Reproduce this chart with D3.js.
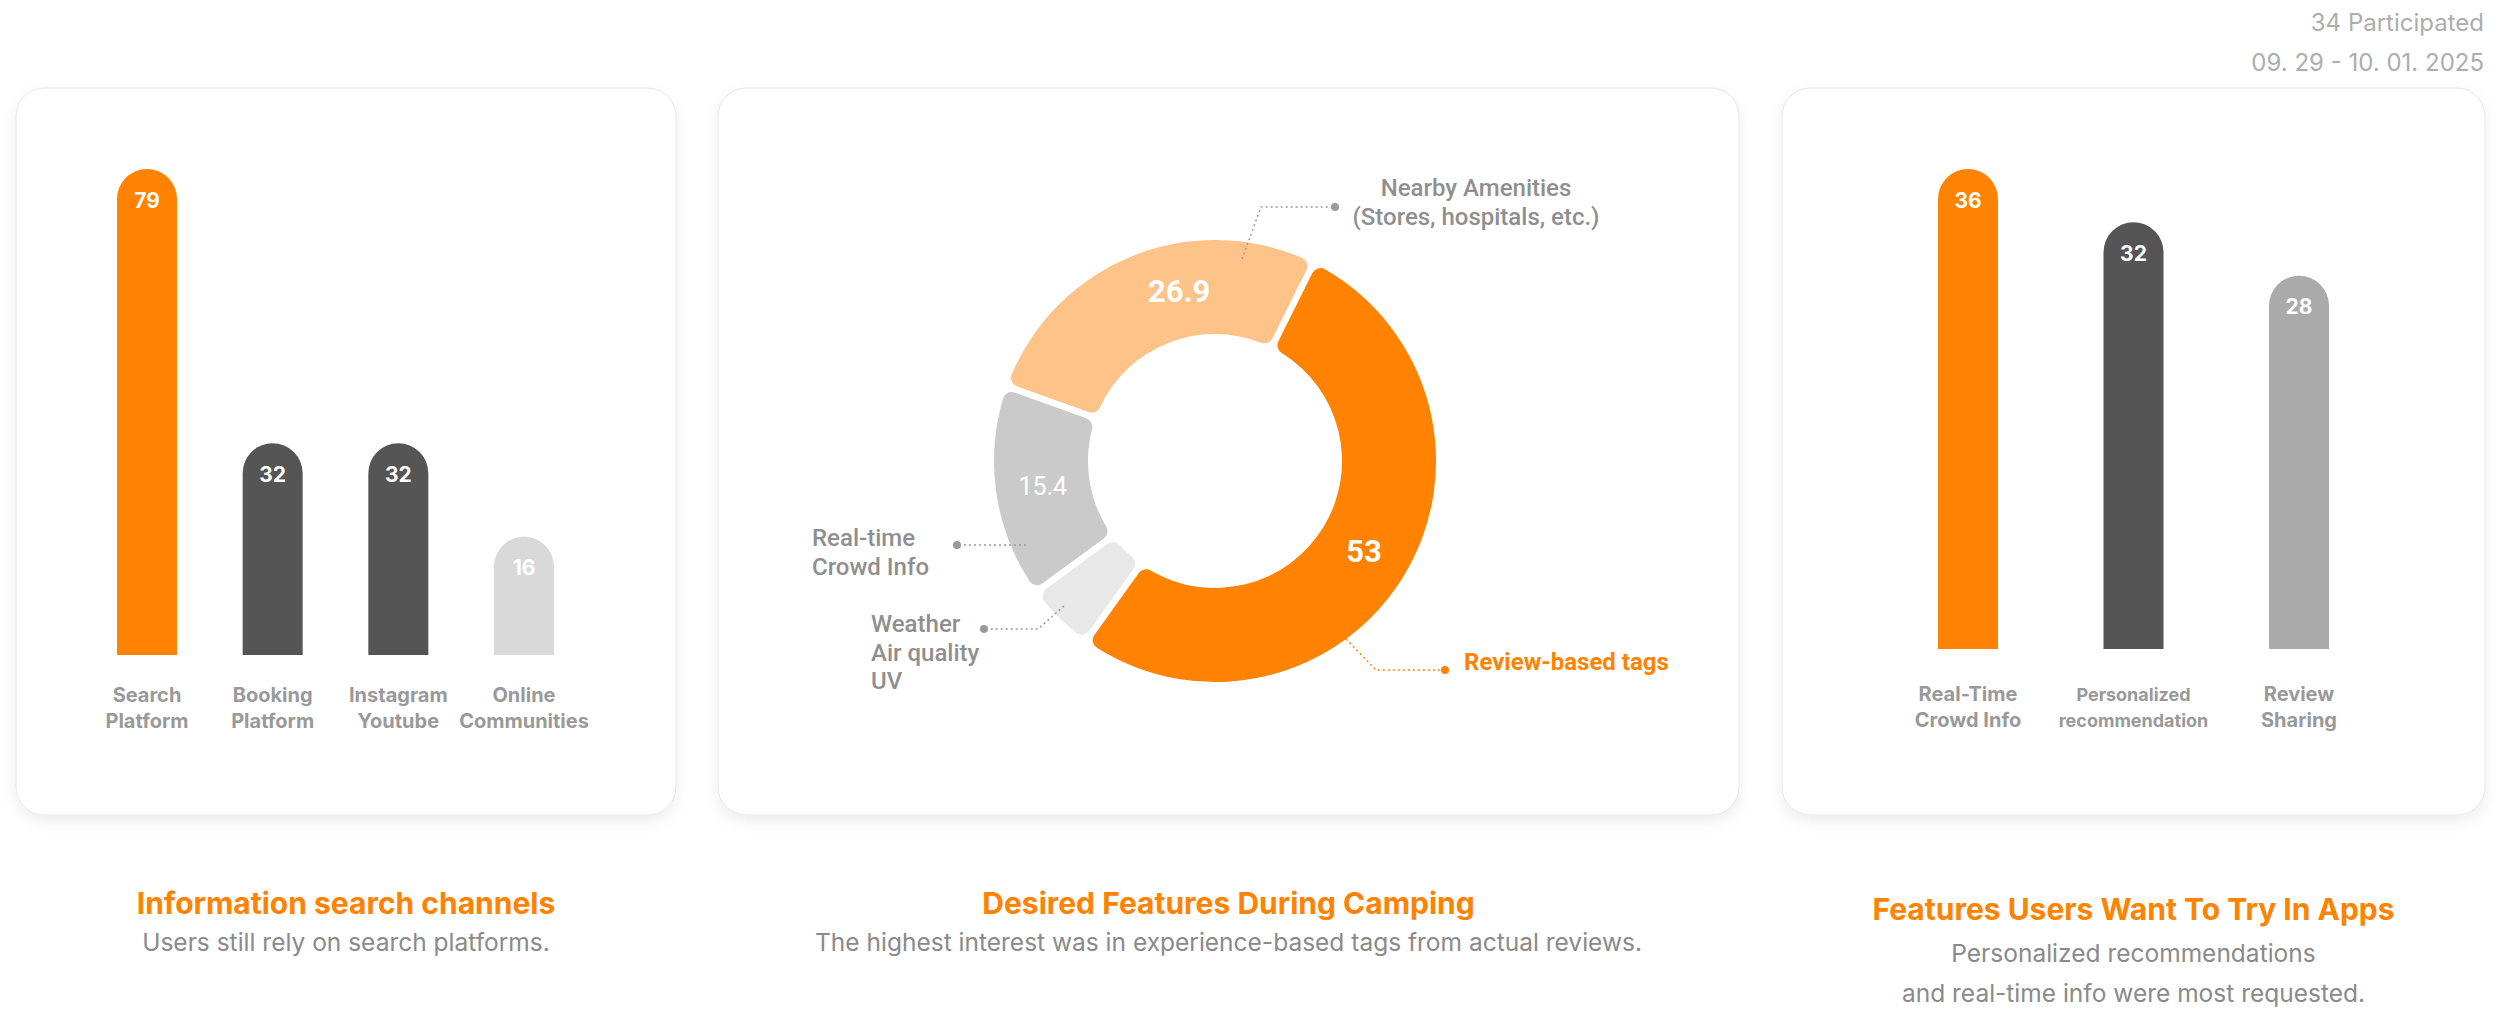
<!DOCTYPE html>
<html>
<head>
<meta charset="utf-8">
<script src="https://cdn.jsdelivr.net/npm/d3@7"></script>
<style>
  html, body { margin: 0; padding: 0; background: #fff; }
  svg { display: block; }
  text { font-family: Inter, "Noto Sans", sans-serif; }
  .donut text { font-family: Roboto, sans-serif; }
</style>
</head>
<body>
<div id="chart"></div>
<script>
const width = 2500;
const height = 1012;

// DATA
const channelCategories = ["Search\nPlatform", "Booking\nPlatform", "Instagram\nYoutube", "Online\nCommunities"];
const channelValues = [79, 32, 32, 16];

const featureCategories = ["Review-based tags", "Weather\nAir quality\nUV", "Real-time\nCrowd Info", "Nearby Amenities\n(Stores, hospitals, etc.)"];
const featureValues = [53, 4.7, 15.4, 26.9];
const featureShown = [true, false, true, true];

const appCategories = ["Real-Time\nCrowd Info", "Personalized\nrecommendation", "Review\nSharing"];
const appValues = [36, 32, 28];

const titles = ["Information search channels", "Desired Features During Camping", "Features Users Want To Try In Apps"];
const subtitles = [
  ["Users still rely on search platforms."],
  ["The highest interest was in experience-based tags from actual reviews."],
  ["Personalized recommendations", "and real-time info were most requested."]
];
const headerLines = ["34 Participated", "09. 29 - 10. 01. 2025"];

// STYLE
const ORANGE = "#ff8200";
const channelColors = [ORANGE, "#555555", "#555555", "#d9d9d9"];
const featureColors = [ORANGE, "#e8e8e8", "#cacaca", "#fdc388"];
const appColors = [ORANGE, "#555555", "#aaaaaa"];
const labelGray = "#999999";

const cards = [
  { x: 16, y: 88, w: 660, h: 727 },
  { x: 718, y: 88, w: 1021, h: 727 },
  { x: 1782, y: 88, w: 703, h: 727 }
];

const svg = d3.select("#chart")
  .append("svg")
  .attr("width", width)
  .attr("height", height);

const defs = svg.append("defs");
defs.append("filter")
  .attr("id", "shadow")
  .attr("x", "-10%").attr("y", "-10%")
  .attr("width", "120%").attr("height", "125%")
  .append("feDropShadow")
  .attr("dx", 0).attr("dy", 6)
  .attr("stdDeviation", 7)
  .attr("flood-color", "#000")
  .attr("flood-opacity", 0.07);

// CARDS
svg.append("g")
  .selectAll("rect")
  .data(cards)
  .enter()
  .append("rect")
  .attr("x", d => d.x)
  .attr("y", d => d.y)
  .attr("width", d => d.w)
  .attr("height", d => d.h)
  .attr("rx", 28)
  .attr("fill", "#fff")
  .attr("stroke", "#e6e6e6")
  .attr("stroke-width", 1)
  .attr("filter", "url(#shadow)");

// HEADER
svg.append("g")
  .selectAll("text")
  .data(headerLines)
  .enter()
  .append("text")
  .attr("x", 2484)
  .attr("y", (d, i) => 22 + i * 40.5)
  .attr("dy", "0.36em")
  .attr("text-anchor", "end")
  .attr("font-size", 24)
  .attr("fill", "#adadad")
  .text(d => d);

function roundTopBar(x, w, yTop, yBase) {
  const r = w / 2;
  return `M${x},${yBase} V${yTop + r} A${r},${r} 0 0 1 ${x + w},${yTop + r} V${yBase} Z`;
}

function multiLine(sel, lines, lineHeight) {
  sel.selectAll("tspan")
    .data(lines)
    .enter()
    .append("tspan")
    .attr("x", sel.attr("x"))
    .attr("dy", (d, i) => i === 0 ? 0 : lineHeight)
    .text(d => d);
}

// BAR CHART
function drawBars(card, categories, values, colors, opts) {
  const g = svg.append("g").attr("transform", `translate(${card.x},0)`);
  const x = d3.scalePoint().domain(categories).range(opts.xRange);
  const y = d3.scaleLinear().domain([0, d3.max(values)]).range([opts.yZero, opts.yTop]);
  const barW = 60;
  const data = categories.map((c, i) => ({ c, v: values[i], color: colors[i] }));

  g.selectAll("path")
    .data(data)
    .enter()
    .append("path")
    .attr("d", d => roundTopBar(x(d.c) - barW / 2, barW, y(d.v), opts.base))
    .attr("fill", d => d.color);

  g.selectAll("text.value")
    .data(data)
    .enter()
    .append("text")
    .attr("class", "value")
    .attr("x", d => x(d.c))
    .attr("y", d => y(d.v) + 31)
    .attr("dy", "0.36em")
    .attr("text-anchor", "middle")
    .attr("font-size", 21)
    .attr("font-weight", 700)
    .attr("fill", "#fff")
    .text(d => d.v);

  g.selectAll("text.cat")
    .data(data)
    .enter()
    .append("text")
    .attr("class", "cat")
    .attr("x", d => x(d.c))
    .attr("y", opts.labelY)
    .attr("dy", "0.36em")
    .attr("text-anchor", "middle")
    .attr("font-size", d => d.c.length > 20 ? 18 : 20)
    .attr("font-weight", 700)
    .attr("fill", labelGray)
    .each(function (d) {
      multiLine(d3.select(this), d.c.split("\n"), 26);
    });
}

drawBars(cards[0], channelCategories, channelValues, channelColors, {
  xRange: [131, 508], yZero: 630, yTop: 169, base: 655, labelY: 702
});

drawBars(cards[2], appCategories, appValues, appColors, {
  xRange: [186, 517], yZero: 649, yTop: 169, base: 649, labelY: 701
});

// DONUT
const cx = 1215, cy = 461;
const innerR = 127, outerR = 221;
const donut = svg.append("g")
  .attr("class", "donut")
  .attr("transform", `translate(${cx},${cy})`);

const startAngle = 26.5 * Math.PI / 180;
const pie = d3.pie()
  .sort(null)
  .startAngle(startAngle)
  .endAngle(startAngle + 2 * Math.PI)
  .padAngle(0.026);

const arc = d3.arc()
  .innerRadius(innerR)
  .outerRadius(outerR)
  .cornerRadius(9);

const labelArc = d3.arc().innerRadius(innerR).outerRadius(outerR);

const arcs = pie(featureValues).map((a, i) => Object.assign(a, {
  name: featureCategories[i], color: featureColors[i], shown: featureShown[i], i
}));

donut.selectAll("path")
  .data(arcs)
  .enter()
  .append("path")
  .attr("d", arc)
  .attr("fill", d => d.color);

// value labels nudged a little along the ring where the design did it
const labelTurn = { 3: 10 * Math.PI / 180 };
donut.selectAll("text.val")
  .data(arcs.filter(d => d.shown))
  .enter()
  .append("text")
  .attr("class", "val")
  .attr("transform", d => {
    const t = labelTurn[d.i] || 0;
    const c = labelArc.centroid({ startAngle: d.startAngle + t, endAngle: d.endAngle + t });
    return `translate(${c[0]},${c[1]})`;
  })
  .attr("dy", "0.36em")
  .attr("text-anchor", "middle")
  .attr("font-size", d => d.value < 20 ? 25 : 31)
  .attr("font-weight", d => d.value < 20 ? 400 : 700)
  .attr("fill", "#fff")
  .text(d => d.value);

// LEADERS (points relative to donut centre)
const leaders = [
  { i: 0, pts: [[131, 178], [161, 209], [230, 209]], tx: 249, ty: 209, anchor: "start", color: ORANGE, weight: 700 },
  { i: 1, pts: [[-151, 145], [-177, 168], [-231, 168]], tx: -344, ty: 171, anchor: "start", color: "#8f8f8f", weight: 500 },
  { i: 2, pts: [[-189, 84], [-258, 84]], tx: -403, ty: 85, anchor: "start", color: "#8f8f8f", weight: 500 },
  { i: 3, pts: [[27, -202], [46, -254], [120, -254]], tx: 261, ty: -265, anchor: "middle", color: "#8f8f8f", weight: 500 }
];

const leaderG = donut.append("g");
leaders.forEach(l => {
  leaderG.append("path")
    .attr("d", d3.line()(l.pts))
    .attr("fill", "none")
    .attr("stroke", l.color === ORANGE ? ORANGE : "#9a9a9a")
    .attr("stroke-width", 1.5)
    .attr("stroke-dasharray", "2 3");
  const end = l.pts[l.pts.length - 1];
  leaderG.append("circle")
    .attr("cx", end[0])
    .attr("cy", end[1])
    .attr("r", 4)
    .attr("fill", l.color === ORANGE ? ORANGE : "#9a9a9a");
  const t = leaderG.append("text")
    .attr("x", l.tx)
    .attr("y", l.ty)
    .attr("dy", "0.36em")
    .attr("text-anchor", l.anchor)
    .attr("font-size", 24)
    .attr("font-weight", l.weight)
    .attr("fill", l.color);
  multiLine(t, featureCategories[l.i].split("\n"), 28.5);
});

// CAPTIONS
const captionY = [
  { title: 903, sub: 942.5, gap: 0 },
  { title: 903, sub: 942.5, gap: 0 },
  { title: 909.5, sub: 953, gap: 40.5 }
];

cards.forEach((card, i) => {
  const mx = card.x + card.w / 2;
  svg.append("text")
    .attr("x", mx)
    .attr("y", captionY[i].title)
    .attr("dy", "0.36em")
    .attr("text-anchor", "middle")
    .attr("font-size", 30)
    .attr("font-weight", 700)
    .attr("fill", ORANGE)
    .text(titles[i]);

  svg.append("g")
    .selectAll("text")
    .data(subtitles[i])
    .enter()
    .append("text")
    .attr("x", mx)
    .attr("y", (d, j) => captionY[i].sub + j * captionY[i].gap)
    .attr("dy", "0.36em")
    .attr("text-anchor", "middle")
    .attr("font-size", 24.5)
    .attr("fill", "#8a8a8a")
    .text(d => d);
});
</script>
</body>
</html>
